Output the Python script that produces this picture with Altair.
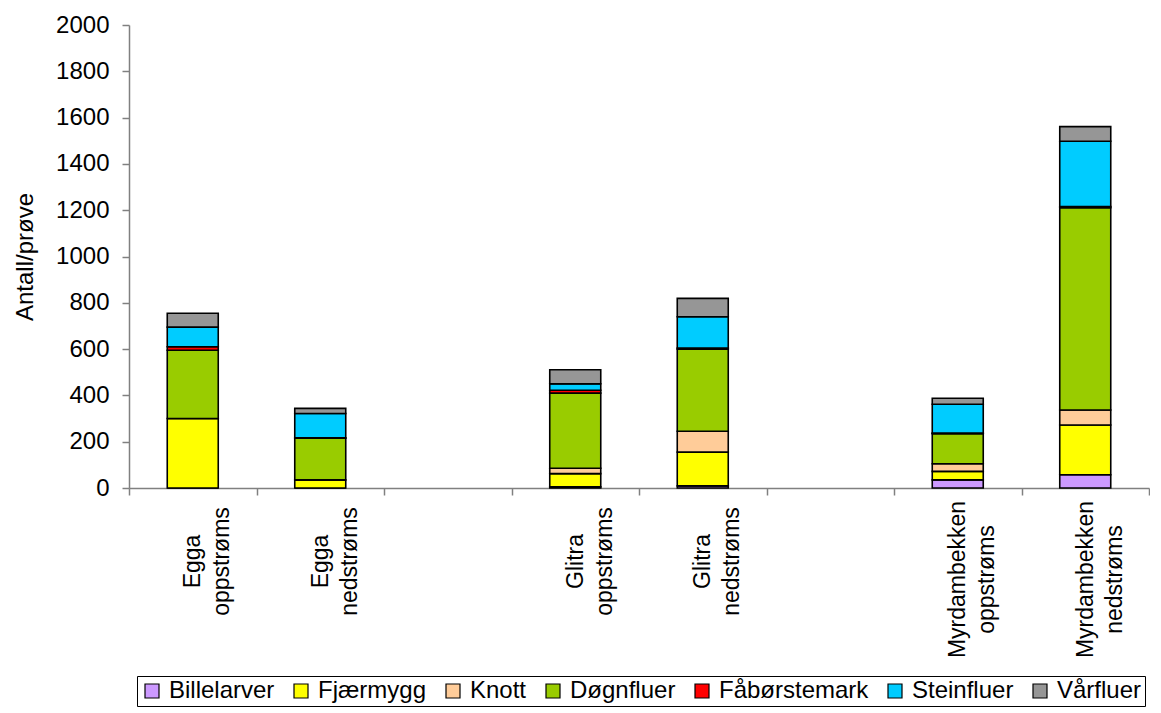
import altair as alt
import pandas as pd

FONT = "Liberation Sans, Arial, sans-serif"

# x categories (blank bands separate the three streams)
sites = [
    "Egga\noppstrøms", "Egga\nnedstrøms", " ",
    "Glitra\noppstrøms", "Glitra\nnedstrøms", "  ",
    "Myrdambekken\noppstrøms", "Myrdambekken\nnedstrøms",
]
data_sites = [
    "Egga\noppstrøms", "Egga\nnedstrøms",
    "Glitra\noppstrøms", "Glitra\nnedstrøms",
    "Myrdambekken\noppstrøms", "Myrdambekken\nnedstrøms",
]

groups = ["Billelarver", "Fjærmygg", "Knott", "Døgnfluer", "Fåbørstemark", "Steinfluer", "Vårfluer"]
colors = ["#CC99FF", "#FFFF00", "#FFCC99", "#99CC00", "#FF0000", "#00CCFF", "#969696"]

billelarver = [0, 0, 5, 9, 35, 57]
fjaermygg = [300, 35, 57, 146, 37, 215]
knott = [0, 0, 23, 90, 33, 65]
dognfluer = [295, 180, 325, 355, 130, 874]
fabørstemark = [15, 2, 12, 5, 2, 5]
steinfluer = [85, 105, 28, 135, 125, 282]
varfluer = [60, 22, 61, 79, 26, 63]

series = [billelarver, fjaermygg, knott, dognfluer, fabørstemark, steinfluer, varfluer]

rows = []
for gi, (g, vals) in enumerate(zip(groups, series)):
    for s, v in zip(data_sites, vals):
        rows.append({"site": s, "gruppe": g, "antall": v, "idx": gi})
df = pd.DataFrame(rows)

pad_expr = ("12 + 6*max(length(split(datum.label, '\\n')[0]), "
            "length(peek(split(datum.label, '\\n'))))")

chart = alt.Chart(df).mark_bar(
    stroke="black", strokeWidth=1.6, width=alt.RelativeBandSize(0.4)
).encode(
    x=alt.X(
        "site:N",
        sort=sites,
        scale=alt.Scale(domain=sites, paddingInner=0, paddingOuter=0),
        axis=alt.Axis(
            title=None,
            labelExpr="split(datum.label, '\\n')",
            labelAngle=270,
            labelAlign="center",
            labelBaseline="middle",
            labelLineHeight=29,
            labelPadding={"expr": pad_expr},
            labelFontSize=23,
            labelColor="black",
            labelFont=FONT,
            labelLimit=0,
            tickBand="extent",
            tickSize=7,
            tickColor="#808080",
            domainColor="#808080",
            domainWidth=1.5,
            tickWidth=1.5,
            grid=False,
        ),
    ),
    y=alt.Y(
        "antall:Q",
        stack="zero",
        scale=alt.Scale(domain=[0, 2000], nice=False),
        axis=alt.Axis(
            title="Antall/prøve",
            values=list(range(0, 2001, 200)),
            format="d",
            grid=False,
            tickSize=7,
            tickColor="#808080",
            tickWidth=1.5,
            domainColor="#808080",
            domainWidth=1.5,
            labelPadding=13,
            labelFontSize=24,
            labelColor="black",
            labelFont=FONT,
            titleFontSize=24,
            titleFont=FONT,
            titleFontWeight="normal",
            titleColor="black",
            titlePadding=18,
        ),
    ),
    color=alt.Color(
        "gruppe:N",
        scale=alt.Scale(domain=groups, range=colors),
        legend=alt.Legend(
            title=None,
            orient="none",
            legendX=8,
            legendY=651,
            direction="horizontal",
            columns=7,
            symbolType="square",
            symbolSize=196,
            symbolStrokeColor="black",
            symbolStrokeWidth=1.2,
            symbolOpacity=1,
            labelFontSize=24,
            labelFont=FONT,
            labelColor="black",
            labelOffset=5,
            labelLimit=0,
            columnPadding=14,
            padding=3,
            strokeColor="black",
            fillColor="white",
        ),
    ),
    order=alt.Order("idx:Q", sort="ascending"),
).properties(
    width=1020,
    height=463,
    padding={"left": 5, "top": 5, "right": 0, "bottom": 0},
).configure(
    font=FONT
).configure_view(
    stroke="transparent"
)

chart.save("out.html", embed_options={"renderer": "svg", "actions": False})
